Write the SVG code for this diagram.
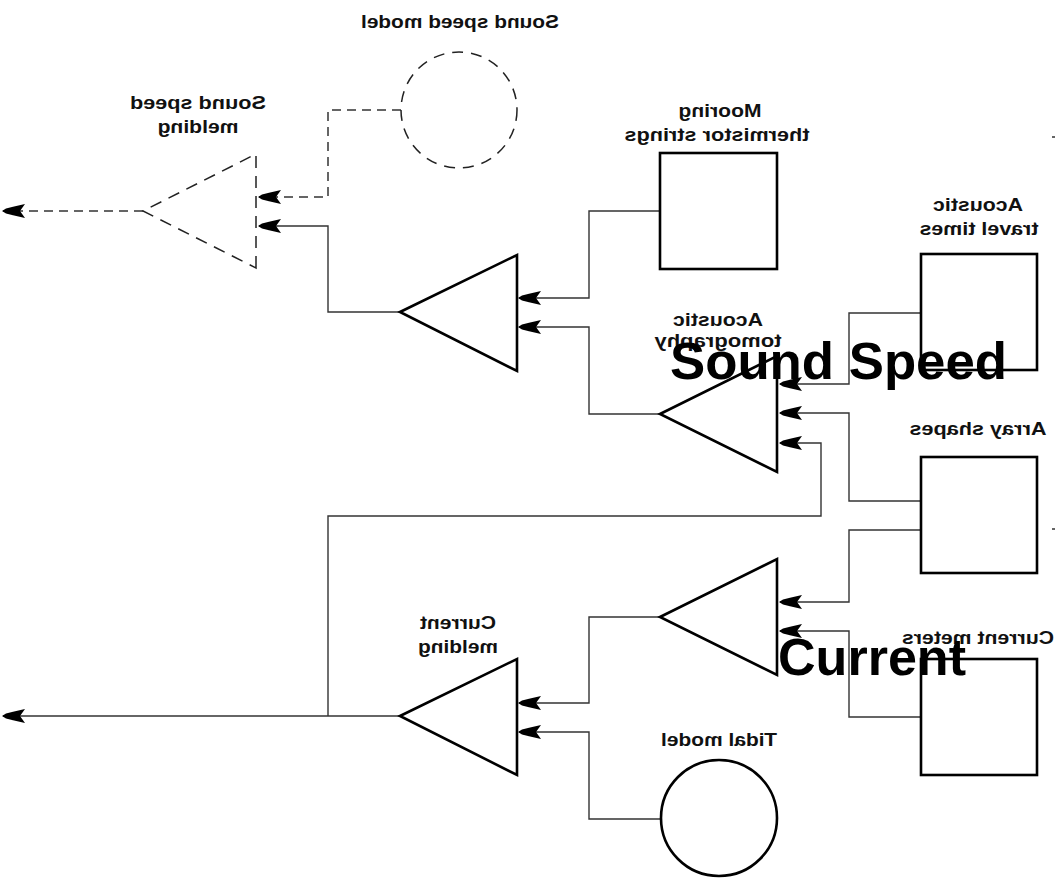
<svg xmlns="http://www.w3.org/2000/svg" width="1055" height="879" viewBox="0 0 1055 879">
<defs>
<marker id="ah" markerUnits="userSpaceOnUse" markerWidth="30" markerHeight="16" refX="0" refY="0" viewBox="-26 -8 28 16" orient="auto" overflow="visible">
<path d="M1,0 L-3,-2.6 L-10,-4.2 L-22,-7 L-17,0 L-22,7 L-10,4.2 L-3,2.6 Z" fill="#000"/>
</marker>
</defs>
<style>
.shape{fill:#fff;stroke:#000;stroke-width:2.6}
.dshape{fill:none;stroke:#222;stroke-width:1.5;stroke-dasharray:12 8}
.dcirc{fill:none;stroke:#222;stroke-width:1.5;stroke-dasharray:11 8}
.conn{fill:none;stroke:#333;stroke-width:1.4;marker-end:url(#ah)}
.plain{fill:none;stroke:#333;stroke-width:1.4}
.dconn{fill:none;stroke:#333;stroke-width:1.5;stroke-dasharray:9 6;marker-end:url(#ah)}
.lbl{font-family:"Liberation Sans",Arial,sans-serif;font-size:19px;font-weight:bold;fill:#111;text-anchor:middle}
.big{font-family:"Liberation Sans",Arial,sans-serif;font-size:52px;font-weight:bold;fill:#000}
</style>
<rect width="1055" height="879" fill="#fff"/>

<g id="connectors">
<path class="dconn" d="M401,110 H328 V197 H259"/>
<path class="dconn" d="M143,211 H3"/>
<path class="conn" d="M400,312 H328 V226 H259"/>
<path class="conn" d="M660,211 H589 V298 H519"/>
<path class="conn" d="M660,414 H589 V327 H519"/>
<path class="conn" d="M921,313 H849 V384 H780"/>
<path class="conn" d="M921,501 H849 V413 H780"/>
<path class="conn" d="M328,716 V516 H821 V443 H780"/>
<path class="conn" d="M921,530 H849 V602 H780"/>
<path class="conn" d="M921,717 H849 V631 H780"/>
<path class="conn" d="M660,617 H589 V703 H519"/>
<path class="conn" d="M661,819 H589 V732 H519"/>
<path class="conn" d="M400,716 H3"/>
</g>

<g id="sound-speed-model">
<circle class="dcirc" cx="459" cy="110" r="58"/>
<text class="lbl" transform="matrix(-1 0 0 1 920 0)" x="460" y="28" textLength="198" lengthAdjust="spacingAndGlyphs">Sound speed model</text>
</g>

<g id="sound-speed-melding">
<path class="dshape" d="M256,268 L256,154 L143,211 Z"/>
<text class="lbl" transform="matrix(-1 0 0 1 396 0)" x="198" y="109" textLength="136" lengthAdjust="spacingAndGlyphs">Sound speed</text>
<text class="lbl" transform="matrix(-1 0 0 1 396 0)" x="198" y="133" textLength="81" lengthAdjust="spacingAndGlyphs">melding</text>
</g>

<g id="temperature-melding">
<path class="shape" d="M400,312 L517,255 L517,371 Z"/>
</g>

<g id="mooring-thermistor-strings">
<rect class="shape" x="660" y="153" width="117" height="116"/>
<text class="lbl" transform="matrix(-1 0 0 1 1440 0)" x="720" y="117" textLength="83" lengthAdjust="spacingAndGlyphs">Mooring</text>
<text class="lbl" transform="matrix(-1 0 0 1 1434 0)" x="717" y="141" textLength="185" lengthAdjust="spacingAndGlyphs">thermistor strings</text>
</g>

<g id="acoustic-tomography">
<path class="shape" d="M660,414 L777,356 L777,472 Z"/>
<text class="lbl" transform="matrix(-1 0 0 1 1436 0)" x="718" y="326" textLength="90" lengthAdjust="spacingAndGlyphs">Acoustic</text>
<text class="lbl" transform="matrix(-1 0 0 1 1436 0)" x="718" y="347" textLength="127" lengthAdjust="spacingAndGlyphs">tomography</text>
</g>

<g id="acoustic-travel-times">
<rect class="shape" x="921" y="254" width="116" height="116"/>
<text class="lbl" transform="matrix(-1 0 0 1 1956 0)" x="978" y="211" textLength="90" lengthAdjust="spacingAndGlyphs">Acoustic</text>
<text class="lbl" transform="matrix(-1 0 0 1 1958 0)" x="979" y="235" textLength="119" lengthAdjust="spacingAndGlyphs">travel times</text>
</g>

<g id="array-shapes">
<rect class="shape" x="921" y="457" width="116" height="116"/>
<text class="lbl" transform="matrix(-1 0 0 1 1956 0)" x="978" y="435" textLength="137" lengthAdjust="spacingAndGlyphs">Array shapes</text>
</g>

<g id="current-estimation">
<path class="shape" d="M660,617 L777,559 L777,675 Z"/>
</g>

<g id="current-meters">
<rect class="shape" x="921" y="659" width="116" height="116"/>
<text class="lbl" transform="matrix(-1 0 0 1 1956 0)" x="978" y="644" textLength="152" lengthAdjust="spacingAndGlyphs">Current meters</text>
</g>

<g id="current-melding">
<path class="shape" d="M400,716 L517,659 L517,775 Z"/>
<text class="lbl" transform="matrix(-1 0 0 1 916 0)" x="458" y="629" textLength="76" lengthAdjust="spacingAndGlyphs">Current</text>
<text class="lbl" transform="matrix(-1 0 0 1 916 0)" x="458" y="653" textLength="80" lengthAdjust="spacingAndGlyphs">melding</text>
</g>

<g id="tidal-model">
<circle class="shape" cx="719" cy="818" r="58"/>
<text class="lbl" transform="matrix(-1 0 0 1 1438 0)" x="719" y="746" textLength="116" lengthAdjust="spacingAndGlyphs">Tidal model</text>
</g>

<g id="overlay-labels">
<text class="big" x="670" y="379" textLength="337" lengthAdjust="spacingAndGlyphs">Sound Speed</text>
<text class="big" x="778" y="675" textLength="188" lengthAdjust="spacingAndGlyphs">Current</text>
</g>

<g id="edge-marks">
<path class="plain" d="M1052,137 H1055 M1052,529 H1055"/>
</g>
</svg>
